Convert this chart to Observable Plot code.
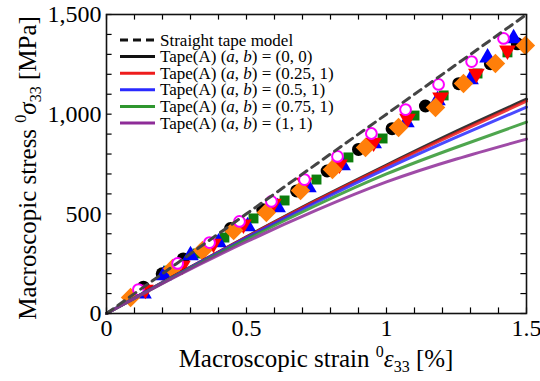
<!DOCTYPE html>
<html><head><meta charset="utf-8">
<script src="https://cdn.jsdelivr.net/npm/d3@7"></script>
<script src="https://cdn.jsdelivr.net/npm/@observablehq/plot@0.6"></script>
<style>html,body{margin:0;padding:0;background:#fff;overflow:hidden}</style>
</head><body><div id="chart"></div>
<script>
// ---- model curves (strain %, stress MPa) ----
const modelStrain = [0, 0.25, 0.5, 0.75, 1.0, 1.25, 1.5];
const straightStress = [0, 250, 500, 750, 1000, 1250, 1500];
const tapeA_0_0    = [0, 195, 385, 570, 745, 915, 1075];
const tapeA_025_1  = [0, 194, 383, 566, 740, 905, 1065];
const tapeA_05_1   = [0, 193, 380, 558, 727, 885, 1035];
const tapeA_075_1  = [0, 190, 372, 543, 700, 834, 960];
const tapeA_1_1    = [0, 187, 360, 518, 660, 775, 875];

// ---- measured points ----
const blackStrain  = [0.132, 0.199, 0.274, 0.443, 0.558, 0.679, 0.788, 0.900, 1.020, 1.139, 1.258, 1.371, 1.467];
const blackStress  = [132, 199, 274, 426, 520, 615, 715, 823, 927, 1041, 1153, 1253, 1353];
const greenStrain  = [0.220, 0.325, 0.421, 0.525, 0.636, 0.750, 0.864, 0.986, 1.100, 1.204, 1.325, 1.432];
const greenStress  = [215, 301, 381, 477, 567, 672, 783, 878, 993, 1094, 1204, 1310];
const blueStrain   = [0.132, 0.204, 0.300, 0.400, 0.504, 0.611, 0.721, 0.843, 0.954, 1.071, 1.182, 1.300, 1.361, 1.454];
const blueStress   = [100, 191, 291, 356, 437, 532, 632, 743, 853, 958, 1069, 1174, 1284, 1380];
const redStrain    = [0.139, 0.271, 0.382, 0.489, 0.596, 0.707, 0.832, 0.954, 1.075, 1.193, 1.321, 1.432];
const redStress    = [120, 241, 351, 447, 552, 657, 748, 858, 978, 1084, 1204, 1320];
const orangeStrain = [0.086, 0.236, 0.343, 0.454, 0.571, 0.693, 0.807, 0.925, 1.043, 1.175, 1.275, 1.389, 1.496];
const orangeStress = [80, 226, 316, 416, 507, 617, 723, 833, 933, 1034, 1154, 1254, 1345];
const magentaStrain = [0.114, 0.254, 0.368, 0.475, 0.589, 0.707, 0.825, 0.946, 1.068, 1.186, 1.304, 1.418];
const magentaStress = [120, 251, 356, 462, 562, 672, 788, 903, 1023, 1149, 1264, 1380];

// ---- ticks ----
const xTickLabels = [0, 0.5, 1, 1.5];
const yTickLabels = [0, 500, 1000, 1500];
const xMinorTicks = d3.range(0, 16).map(i => i / 10);
const yMinorTicks = d3.range(0, 16).map(i => i * 100);

// ---- legend ----
const legendPrefix = "Tape(A) (";
const legendValues = ["(0, 0)", "(0.25, 1)", "(0.5, 1)", "(0.75, 1)", "(1, 1)"];
const legendFirst = "Straight tape model";

const lineColors = ["#111111", "#ee1c1c", "#2a2aff", "#2f962f", "#8e2c98"];
const modelSeries = [tapeA_0_0, tapeA_025_1, tapeA_05_1, tapeA_075_1, tapeA_1_1];

const pts = (xs, ys) => xs.map((x, i) => ({x, y: ys[i]}));
const curve = ys => modelStrain.map((x, i) => ({x, y: ys[i]}));

const sqrt3 = Math.sqrt(3);
const triangleDown = {
  draw(context, size) {
    const y = -Math.sqrt(size / (sqrt3 * 3));
    context.moveTo(0, -y * 2);
    context.lineTo(-sqrt3 * y, y);
    context.lineTo(sqrt3 * y, y);
    context.closePath();
  }
};

const serif = "'Liberation Serif', 'Times New Roman', serif";

const plot = Plot.plot({
  width: 540, height: 381,
  marginLeft: 106, marginRight: 14, marginTop: 14, marginBottom: 68,
  style: {fontFamily: serif, fontSize: "23px", background: "#fff", color: "#000"},
  x: {domain: [0, 1.5], axis: null},
  y: {domain: [0, 1500], axis: null},
  marks: [
    Plot.dot(pts(blackStrain, blackStress), {x: "x", y: "y", r: 6.5, fill: "#000", symbol: "circle"}),
    Plot.dot(pts(greenStrain, greenStress), {x: "x", y: "y", r: 5.6, fill: "#0c7d0c", symbol: "square"}),
    Plot.dot(pts(blueStrain, blueStress), {x: "x", y: "y", r: 6.2, fill: "#0000ff", symbol: "triangle"}),
    Plot.dot(pts(redStrain, redStress), {x: "x", y: "y", r: 6.2, fill: "#ff0000", symbol: triangleDown}),
    Plot.dot(pts(orangeStrain, orangeStress), {x: "x", y: "y", r: 8.8, fill: "#ff7f0a", symbol: "diamond2"}),
    Plot.dot(pts(magentaStrain, magentaStress), {x: "x", y: "y", r: 5.4, fill: "#fff", stroke: "#ff00ff", strokeWidth: 2, symbol: "circle"}),
    ...modelSeries.map((s, i) => Plot.line(curve(s), {x: "x", y: "y", stroke: lineColors[i], strokeWidth: 3, strokeOpacity: 0.85, curve: "natural"})),
    Plot.line(curve(straightStress), {x: "x", y: "y", stroke: "#444", strokeWidth: 3, strokeDasharray: "8,6"}),
    // inward ticks
    Plot.ruleX(xMinorTicks, {x: d => d, y1: 0, y2: 28, stroke: "#000", strokeWidth: 1.2}),
    Plot.ruleX(xMinorTicks, {x: d => d, y1: 1500, y2: 1472, stroke: "#000", strokeWidth: 1.2}),
    Plot.ruleY(yMinorTicks, {y: d => d, x1: 0, x2: 0.02, stroke: "#000", strokeWidth: 1.2}),
    Plot.ruleY(yMinorTicks, {y: d => d, x1: 1.5, x2: 1.48, stroke: "#000", strokeWidth: 1.2}),
    Plot.frame({stroke: "#111", strokeWidth: 1.6}),
    Plot.axisX(xTickLabels, {tickSize: 0, tickPadding: 5, fontSize: 24, fontFamily: serif, tickFormat: d => String(d), label: null}),
    Plot.axisY(yTickLabels, {tickSize: 0, tickPadding: 5, fontSize: 24, fontFamily: serif, tickFormat: d3.format(","), label: null})
  ]
});
document.getElementById("chart").appendChild(plot);

// ---- titles and legend ----
const svg = d3.select(plot);
const xt = svg.append("text").attr("x", 316).attr("y", 367).attr("text-anchor", "middle")
  .attr("font-family", serif).attr("font-size", 25).attr("fill", "#000");
xt.append("tspan").text("Macroscopic strain ");
xt.append("tspan").attr("font-size", 16).attr("dy", -10).text("0");
xt.append("tspan").attr("font-style", "italic").attr("dy", 10).text("ε");
xt.append("tspan").attr("font-size", 16).attr("dy", 5).text("33");
xt.append("tspan").attr("dy", -5).text(" [%]");

const yt = svg.append("text").attr("transform", "translate(36,168) rotate(-90)").attr("text-anchor", "middle")
  .attr("font-family", serif).attr("font-size", 25).attr("fill", "#000");
yt.append("tspan").text("Macroscopic stress ");
yt.append("tspan").attr("font-size", 16).attr("dy", -10).text("0");
yt.append("tspan").attr("font-style", "italic").attr("dy", 10).text("σ");
yt.append("tspan").attr("font-size", 16).attr("dy", 5).text("33");
yt.append("tspan").attr("dy", -5).text(" [MPa]");

const lg = svg.append("g").attr("font-family", serif).attr("font-size", 17).attr("fill", "#000")
  .attr("text-anchor", "start");
const rowY = i => 40 + i * 16.6;
lg.append("line").attr("x1", 120).attr("x2", 155).attr("y1", rowY(0)).attr("y2", rowY(0))
  .attr("stroke", "#111").attr("stroke-width", 3).attr("stroke-dasharray", "8,5");
lg.append("text").attr("x", 160).attr("y", rowY(0)).attr("dy", "0.33em").text(legendFirst);
legendValues.forEach((v, i) => {
  const y = rowY(i + 1);
  lg.append("line").attr("x1", 120).attr("x2", 155).attr("y1", y).attr("y2", y)
    .attr("stroke", lineColors[i]).attr("stroke-width", 3);
  const t = lg.append("text").attr("x", 160).attr("y", y).attr("dy", "0.33em");
  t.append("tspan").text(legendPrefix);
  t.append("tspan").attr("font-style", "italic").text("a");
  t.append("tspan").text(", ");
  t.append("tspan").attr("font-style", "italic").text("b");
  t.append("tspan").text(") = " + v);
});
</script>
</body></html>
